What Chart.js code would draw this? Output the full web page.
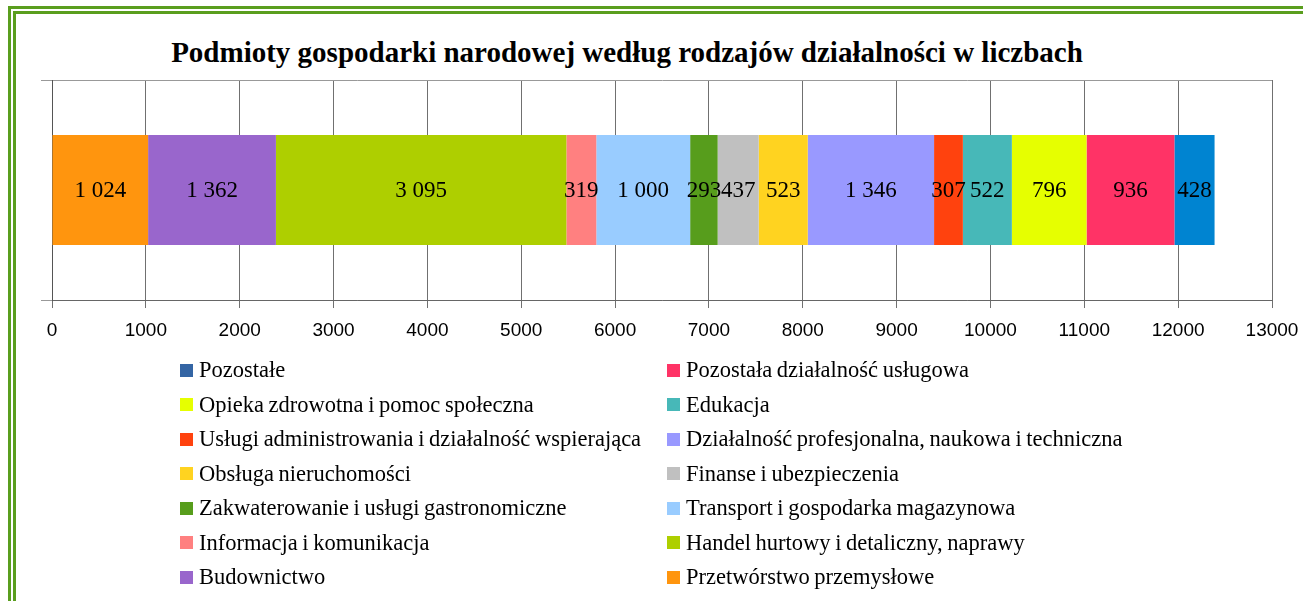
<!DOCTYPE html>
<html lang="pl">
<head>
<meta charset="utf-8">
<script src="https://cdn.jsdelivr.net/npm/chart.js@4/dist/chart.umd.min.js"></script>
<style>
  html, body { margin:0; padding:0; background:#fff; }
  body { width:1303px; height:601px; position:relative; overflow:hidden; }
  #frame { position:absolute; left:8px; top:6px; width:1400px; height:700px; border:8px double #5a9e1e; box-sizing:border-box; }
  #title { position:absolute; left:0; top:35px; width:1254px; text-align:center; font-family:"Liberation Serif", "Times New Roman", serif; font-weight:bold; font-size:29px; line-height:34px; color:#000; }
  #chart { position:absolute; left:0; top:0; }
  #legend { position:absolute; left:180px; top:353px; display:grid; grid-template-columns:487px auto; grid-auto-rows:34.5px; font-family:"Liberation Serif", "Times New Roman", serif; font-size:22.5px; word-spacing:-1px; color:#000; }
  .item { display:flex; align-items:center; white-space:nowrap; }
  .sw { width:13px; height:13px; margin-right:6px; flex:none; }
</style>
</head>
<body>
<div id="frame"></div>
<div id="title">Podmioty gospodarki narodowej według rodzajów działalności w liczbach</div>
<canvas id="chart" width="1303" height="354"></canvas>
<div id="legend"></div>
<script>
const categories = [''];
const seriesNames = [
  'Przetwórstwo przemysłowe',
  'Budownictwo',
  'Handel hurtowy i detaliczny, naprawy',
  'Informacja i komunikacja',
  'Transport i gospodarka magazynowa',
  'Zakwaterowanie i usługi gastronomiczne',
  'Finanse i ubezpieczenia',
  'Obsługa nieruchomości',
  'Działalność profesjonalna, naukowa i techniczna',
  'Usługi administrowania i działalność wspierająca',
  'Edukacja',
  'Opieka zdrowotna i pomoc społeczna',
  'Pozostała działalność usługowa',
  'Pozostałe'
];
const seriesValues = [1024, 1362, 3095, 319, 1000, 293, 437, 523, 1346, 307, 522, 796, 936, 428];
const seriesColors = ['#ff950e', '#9966cc', '#aecf00', '#ff8080', '#99ccff', '#579d1c', '#c0c0c0', '#ffd320', '#9999ff', '#ff420e', '#47b8b8', '#e6ff00', '#ff3366', '#0084d1'];
const legendColors = ['#ff950e', '#9966cc', '#aecf00', '#ff8080', '#99ccff', '#579d1c', '#c0c0c0', '#ffd320', '#9999ff', '#ff420e', '#47b8b8', '#e6ff00', '#ff3366', '#3465a4'];
const xTickMin = 0, xTickMax = 13000, xTickStep = 1000;

function fmt(v) { return String(v).replace(/\B(?=(\d{3})+(?!\d))/g, ' '); }

const labelPlugin = {
  id: 'barLabels',
  afterDatasetsDraw(chart) {
    const ctx = chart.ctx;
    ctx.save();
    ctx.font = '23px "Liberation Serif", "Times New Roman", serif';
    ctx.fillStyle = '#000';
    ctx.textAlign = 'center';
    ctx.textBaseline = 'middle';
    chart.data.datasets.forEach((ds, i) => {
      const meta = chart.getDatasetMeta(i);
      meta.data.forEach((el, j) => {
        const p = el.getProps(['x', 'y', 'base'], true);
        ctx.fillText(fmt(ds.data[j]), (p.x + p.base) / 2, p.y + 1);
      });
    });
    ctx.restore();
  }
};

const chart = new Chart(document.getElementById('chart'), {
  type: 'bar',
  data: {
    labels: categories,
    datasets: seriesNames.map((n, i) => ({
      label: n,
      data: [seriesValues[i]],
      backgroundColor: seriesColors[i],
      borderWidth: 0,
      barPercentage: 0.5,
      categoryPercentage: 1
    }))
  },
  options: {
    indexAxis: 'y',
    responsive: false,
    animation: false,
    layout: { padding: { left: 41, top: 80, right: 31, bottom: 0 } },
    plugins: { legend: { display: false }, title: { display: false }, tooltip: { enabled: false } },
    scales: {
      x: {
        stacked: true,
        min: xTickMin, max: xTickMax,
        ticks: { stepSize: xTickStep, padding: 0, color: '#000', callback: (v) => String(v),
                 font: { family: '"Liberation Sans", Arial, sans-serif', size: 19, lineHeight: 2.42 } },
        grid: { color: '#707070', lineWidth: 1, tickLength: 8 },
        border: { color: '#666', width: 1 }
      },
      y: {
        stacked: true,
        ticks: { display: false },
        grid: { color: '#999', lineWidth: 1, tickLength: 11, offset: true },
        border: { color: '#555', width: 1 }
      }
    }
  },
  plugins: [labelPlugin]
});

const legend = document.getElementById('legend');
for (let i = seriesNames.length - 1; i >= 0; i--) {
  const item = document.createElement('div');
  item.className = 'item';
  const sw = document.createElement('span');
  sw.className = 'sw';
  sw.style.background = legendColors[i];
  const tx = document.createElement('span');
  tx.textContent = seriesNames[i];
  item.appendChild(sw);
  item.appendChild(tx);
  legend.appendChild(item);
}
</script>
</body>
</html>
